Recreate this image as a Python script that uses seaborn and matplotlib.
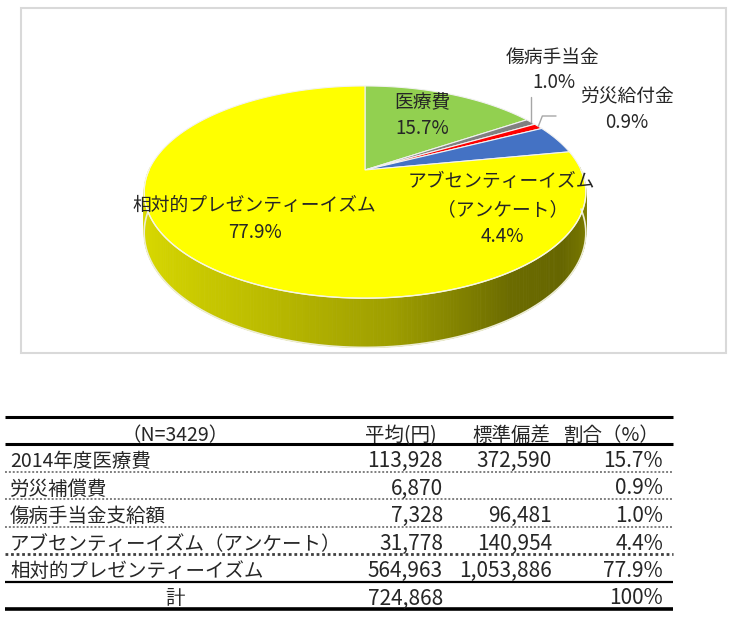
import numpy as np
import matplotlib
matplotlib.use("Agg")
import matplotlib.pyplot as plt
from matplotlib.patches import Polygon, Rectangle
import seaborn as sns

# pie data (share of total cost, %)
pie_labels = ["医療費", "傷病手当金", "労災給付金",
              "アブセンティーイズム\n（アンケート）", "相対的プレゼンティーイズム"]
pie_shares = [15.7, 1.0, 0.9, 4.4, 77.9]
pie_colors = ["#92D050", "#808080", "#FF0000", "#4472C4", "#FFFF00"]

# table data
table_header = ["（N=3429）", "平均(円)", "標準偏差", "割合（%）"]
row_labels = ["2014年度医療費", "労災補償費", "傷病手当金支給額",
              "アブセンティーイズム（アンケート）", "相対的プレゼンティーイズム", "計"]
mean_yen = [113928, 6870, 7328, 31778, 564963, 724868]
std_yen = [372590, None, 96481, 140954, 1053886, None]
share_pct = ["15.7%", "0.9%", "1.0%", "4.4%", "77.9%", "100%"]

sns.set_theme(style="white")
plt.rcParams['font.family'] = ['Noto Sans CJK JP', 'DejaVu Sans']

fig = plt.figure(figsize=(7.39, 6.2), dpi=100)
ax = fig.add_axes([0, 0, 1, 1])
ax.set_xlim(0, 739)
ax.set_ylim(620, 0)
ax.axis('off')

# chart frame
ax.add_patch(Rectangle((21, 8), 705, 345, fill=False, edgecolor="#D9D9D9", lw=1.5))

# ---- 3d pie (simple perspective projection of a flat cylinder) ----
CX, CY = 365, 170      # apex on screen
R, S = 216, 101.5      # horizontal / vertical radius
K = 0.208              # perspective strength
D = 39                 # thickness

def proj(phi, r=1.0, z=0.0):
    u = r * np.cos(phi)
    v = r * np.sin(phi)
    w = 1 + K * v
    return CX + R * u / w, CY - S * v / w + z * D / w

def shade(t):
    # lighter on the left, darkest a bit right of centre
    return np.interp(t, [0, 0.3, 0.55, 0.78, 0.9, 1.0], [0.86, 0.74, 0.62, 0.42, 0.4, 0.5])

fracs = np.array(pie_shares) / sum(pie_shares)
cum = np.concatenate([[0], np.cumsum(fracs)])
starts = np.pi / 2 - 2 * np.pi * cum[:-1]
ends = np.pi / 2 - 2 * np.pi * cum[1:]

# side walls
for a0, a1, col in zip(starts, ends, pie_colors):
    base = np.array(matplotlib.colors.to_rgb(col))
    n = max(int(abs(a0 - a1) / (2 * np.pi) * 500), 2)
    angs = np.linspace(a1, a0, n + 1)
    for a, b in zip(angs[:-1], angs[1:]):
        m = (a + b) / 2
        if np.sin(m) > 0.02:
            continue
        pts = [proj(a), proj(b), proj(b, z=1), proj(a, z=1)]
        c = np.clip(base * shade((np.cos(m) + 1) / 2), 0, 1)
        ax.add_patch(Polygon(pts, closed=True, facecolor=c, edgecolor=c, lw=0.6))

front = np.linspace(-np.pi, 0, 200)
bx, by = proj(front, z=1)
ax.plot(bx, by, color="#EDEDD5", lw=1.2)

# top faces
for a0, a1, col in zip(starts, ends, pie_colors):
    angs = np.linspace(a0, a1, 200)
    px, py = proj(angs)
    pts = [proj(0, r=0)] + list(zip(px, py))
    ax.add_patch(Polygon(pts, closed=True, facecolor=col, edgecolor="#F2F2F2", lw=0.8))

tx, ty = proj(front)
ax.plot(tx, ty, color="#F7F7E0", lw=1.0)

# pie labels
lab_fs = 13.5
ax.text(422, 103, pie_labels[0], ha="center", va="center", fontsize=lab_fs)
ax.text(422, 128, f"{pie_shares[0]}%", ha="center", va="center", fontsize=lab_fs)
ax.text(553, 57, pie_labels[1], ha="center", va="center", fontsize=lab_fs)
ax.text(554, 83, f"{pie_shares[1]}%", ha="center", va="center", fontsize=lab_fs)
ax.text(627, 97, pie_labels[2], ha="center", va="center", fontsize=lab_fs)
ax.text(627, 123, f"{pie_shares[2]}%", ha="center", va="center", fontsize=lab_fs)
ab1, ab2 = pie_labels[3].split("\n")
ax.text(501, 182, ab1, ha="center", va="center", fontsize=lab_fs)
ax.text(503, 210, ab2, ha="center", va="center", fontsize=lab_fs)
ax.text(502, 237, f"{pie_shares[3]}%", ha="center", va="center", fontsize=lab_fs)
ax.text(254, 205, pie_labels[4], ha="center", va="center", fontsize=lab_fs)
ax.text(255, 233, f"{pie_shares[4]}%", ha="center", va="center", fontsize=lab_fs)

# leader lines for the two thin slices
mid1 = (starts[1] + ends[1]) / 2
gx, gy = proj(mid1)
ax.plot([gx, gx], [gy, 97], color="#A6A6A6", lw=1.0)
mid2 = (starts[2] + ends[2]) / 2
rx, ry = proj(mid2)
ax.plot([rx, rx + 4, 556], [ry, 116, 116], color="#A6A6A6", lw=1.0)

# ---- table ----
tab_fs = 14          # japanese text
num_fs = 15          # numbers
x0, x1 = 5, 673
col_right = [443, 552, 663]
header_line = 444
row_h = 27.5

ax.hlines(417, x0, x1, color="black", lw=2.2)
ax.hlines(header_line, x0, x1, color="black", lw=2.2)
ax.text(175, 441, table_header[0], ha="center", va="baseline", fontsize=tab_fs)
ax.text(437, 441, table_header[1], ha="right", va="baseline", fontsize=tab_fs)
ax.text(550, 441, table_header[2], ha="right", va="baseline", fontsize=tab_fs)
ax.text(660, 441, table_header[3], ha="right", va="baseline", fontsize=tab_fs)

for i, (lab, mv, sv, pv) in enumerate(zip(row_labels, mean_yen, std_yen, share_pct)):
    bottom = header_line + row_h * (i + 1)
    base_y = bottom - 4.5
    if lab == "計":
        ax.text(175, base_y, lab, ha="center", va="baseline", fontsize=tab_fs)
    else:
        ax.text(10, base_y, lab, ha="left", va="baseline", fontsize=tab_fs)
    ax.text(col_right[0], base_y, f"{mv:,}", ha="right", va="baseline", fontsize=num_fs)
    if sv is not None:
        ax.text(col_right[1], base_y, f"{sv:,}", ha="right", va="baseline", fontsize=num_fs)
    ax.text(col_right[2], base_y, pv, ha="right", va="baseline", fontsize=num_fs)
    if i < 3:
        ax.hlines(bottom, x0, x1, color="#7F7F7F", lw=1.4, linestyles=(0, (1, 1)))
    elif i == 3:
        ax.hlines(bottom, x0, x1, color="#404040", lw=2.0, linestyles=(0, (1, 1)))
    elif i == 4:
        ax.hlines(bottom, x0, x1, color="black", lw=1.6)
    else:
        ax.hlines(bottom, x0, x1, color="black", lw=2.6)

fig.savefig("out.png", dpi=100)
